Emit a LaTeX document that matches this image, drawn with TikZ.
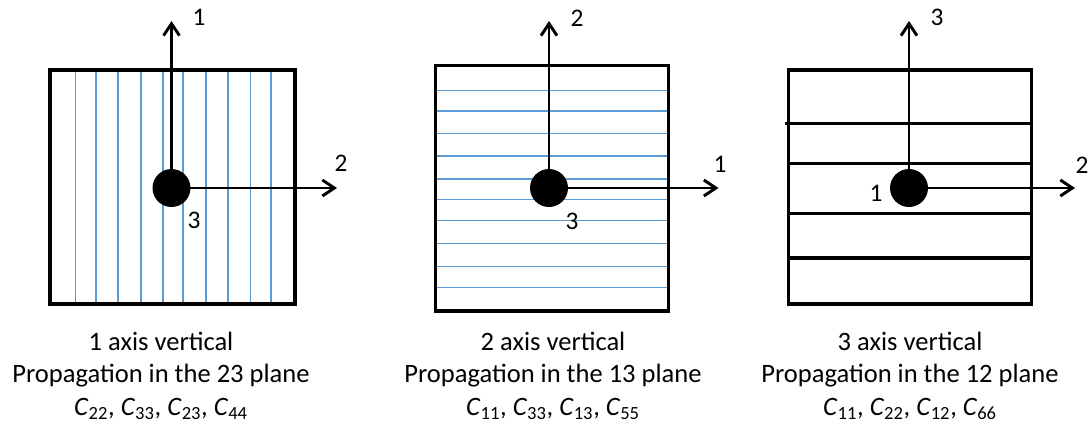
\documentclass[tikz,border=0pt]{standalone}
\usepackage{fontspec}
\setmainfont{Carlito}
\usetikzlibrary{arrows.meta}
\definecolor{layerblue}{RGB}{91,155,213}
\newcommand{\Cc}[1]{\textit{C}\textsubscript{#1}}
\begin{document}
\begin{tikzpicture}[x=0.75pt,y=-0.75pt,
  frame/.style={line width=2.5pt},
  layer/.style={draw=layerblue, line width=0.8pt},
  blacklayer/.style={line width=2.5pt},
  axis/.style={line width=2.2pt, -{Straight Barb[length=9pt,width=12pt]}},
  dot/.style={circle, fill=black, inner sep=0pt, minimum size=28.5pt},
  num/.style={font=\fontsize{19}{22}\selectfont, inner sep=0pt},
  captext/.style={font=\fontsize{19.9}{24}\selectfont, anchor=base, inner sep=0pt}]
\useasboundingbox (0,0) rectangle (1089,429);

% ---------- Panel 1 ----------
\foreach \x in {75.5,96,118,141,163,183,206,228,250.5,271}
  \draw[layer] (\x,70) -- (\x,304);
\draw[frame] (50,70) rectangle (295,304);
\node[dot] (d1) at (171.5,188) {};
\coordinate (t1) at (171.5,21);
\coordinate (r1) at (337,188);
\draw[axis] (d1.center) -- (t1);
\draw[axis] (d1.center) -- (r1);
\node[num] (l1a) at (199,17.5) {1};
\node[num] (l1b) at (341,163.5) {2};
\node[num] (l1c) at (194,220) {3};
\node[captext] (c1a) at (161,350) {1 axis vertical};
\node[captext] (c1b) at (161,382) {Propagation in the 23 plane};
\node[captext] (c1c) at (161,415) {\Cc{22}, \Cc{33}, \Cc{23}, \Cc{44}};

% ---------- Panel 2 ----------
\foreach \y in {90.5,111,133.5,156,179,199.3,220.5,243.3,266.7,287.2}
  \draw[layer] (435.7,\y) -- (668.5,\y);
\draw[frame] (435.7,65.5) rectangle (668.5,311);
\node[dot] (d2) at (549,188) {};
\coordinate (t2) at (549,21);
\coordinate (r2) at (718.5,188);
\draw[axis] (d2.center) -- (t2);
\draw[axis] (d2.center) -- (r2);
\node[num] (l2a) at (577,18) {2};
\node[num] (l2b) at (720,164) {1};
\node[num] (l2c) at (572,221) {3};
\node[captext] (c2a) at (553,350) {2 axis vertical};
\node[captext] (c2b) at (553,382) {Propagation in the 13 plane};
\node[captext] (c2c) at (553,415) {\Cc{11}, \Cc{33}, \Cc{13}, \Cc{55}};

% ---------- Panel 3 ----------
\draw[blacklayer] (785,123.5) -- (1031.5,123.5);
\foreach \y in {163.3,213.5,258}
  \draw[blacklayer] (788.3,\y) -- (1031.5,\y);
\draw[frame] (788.3,70) rectangle (1031.5,304);
\node[dot] (d3) at (909,188) {};
\coordinate (t3) at (909,21);
\coordinate (r3) at (1075,188);
\draw[axis] (d3.center) -- (t3);
\draw[axis] (d3.center) -- (r3);
\node[num] (l3a) at (937,17) {3};
\node[num] (l3b) at (1082,165) {2};
\node[num] (l3c) at (876,193) {1};
\node[captext] (c3a) at (910,350) {3 axis vertical};
\node[captext] (c3b) at (910,382) {Propagation in the 12 plane};
\node[captext] (c3c) at (910,415) {\Cc{11}, \Cc{22}, \Cc{12}, \Cc{66}};
\end{tikzpicture}
\end{document}
